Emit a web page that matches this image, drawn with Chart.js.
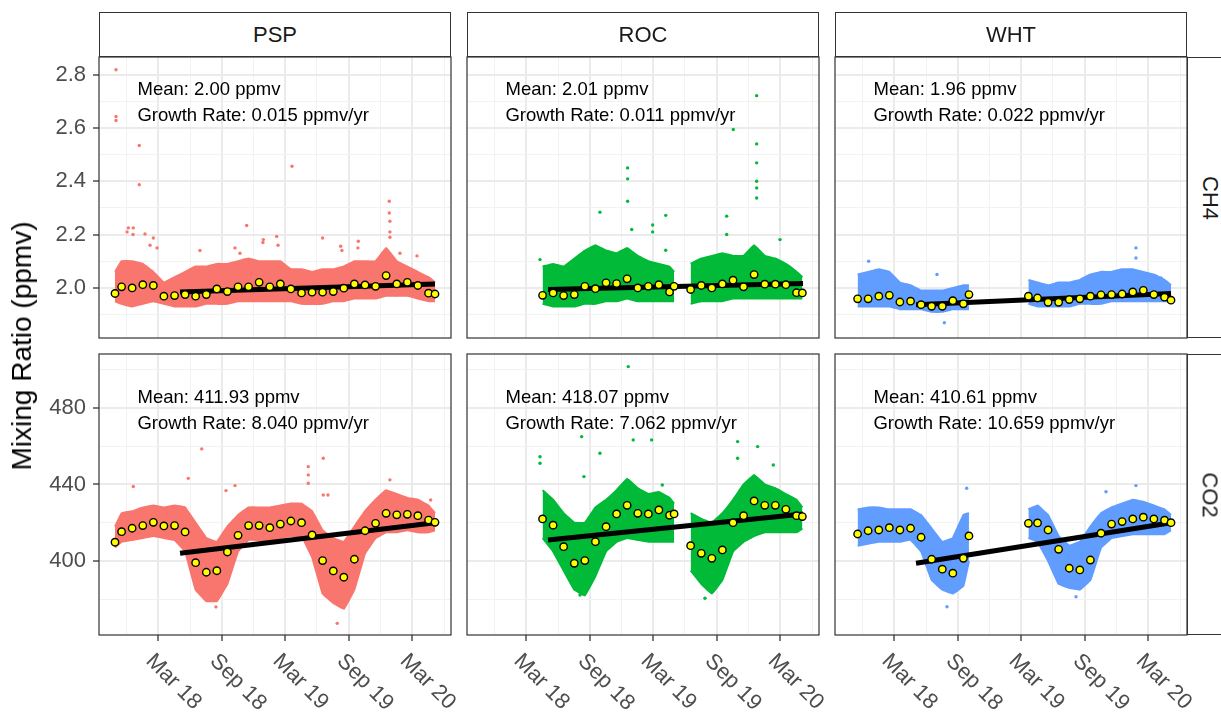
<!DOCTYPE html>
<html>
<head>
<meta charset="utf-8">
<script src="https://cdn.jsdelivr.net/npm/chart.js@4.4.1/dist/chart.umd.min.js"></script>
<style>
body { margin: 0; background: #fff; font-family: "Liberation Sans", Arial, sans-serif; }
#fig { position: relative; width: 1221px; height: 713px; overflow: hidden; background: #fff; }
#fig canvas { position: absolute; }
.strip { position: absolute; box-sizing: border-box; border: 1px solid #333; background: #fff;
         color: #1a1a1a; font-size: 22px; display: flex; align-items: center; justify-content: center; }
.strip span.rot { display: inline-block; transform: rotate(90deg); }
#ytitle { position: absolute; left: 22px; top: 346px; transform: translate(-50%, -50%) rotate(-90deg);
          white-space: nowrap; font-size: 28px; color: #000; }
</style>
</head>
<body>
<div id="fig"></div>
<script>
const sites = ['PSP', 'ROC', 'WHT'];
const gases = ['CH4', 'CO2'];
const siteColors = ['#F8766D', '#00BA38', '#619CFF'];

// x axis breaks
const xMajorDates = ['2018-03-01', '2018-09-01', '2019-03-01', '2019-09-01', '2020-03-01'];
const xMajorLabels = ['Mar 18', 'Sep 18', 'Mar 19', 'Sep 19', 'Mar 20'];
const xMinorDates = ['2017-12-01', '2018-06-01', '2018-12-01', '2019-06-01', '2019-12-01', '2020-06-01'];

// y axis breaks
const ch4Major = [2.0, 2.2, 2.4, 2.6, 2.8];
const ch4Minor = [1.9, 2.1, 2.3, 2.5, 2.7];
const co2Major = [400, 440, 480];
const co2Minor = [380, 420, 460, 500];

// monthly mean times (decimal year)
const pspTime = [2017.823, 2017.875, 2017.958, 2018.042, 2018.125, 2018.208, 2018.292, 2018.375, 2018.458, 2018.542, 2018.625, 2018.708,
  2018.792, 2018.875, 2018.958, 2019.042, 2019.125, 2019.208, 2019.292, 2019.375, 2019.458, 2019.542, 2019.625, 2019.708,
  2019.792, 2019.875, 2019.958, 2020.042, 2020.125, 2020.208, 2020.292, 2020.343];
const rocTime = [2018.292, 2018.375, 2018.458, 2018.542, 2018.625, 2018.708, 2018.792, 2018.875, 2018.958, 2019.042, 2019.125, 2019.208,
  2019.292, 2019.328, 2019.458, 2019.542, 2019.625, 2019.708, 2019.792, 2019.875, 2019.958, 2020.042, 2020.125, 2020.208,
  2020.292, 2020.338];
const whtTime = [2017.875, 2017.958, 2018.042, 2018.125, 2018.208, 2018.292, 2018.375, 2018.458, 2018.542, 2018.625, 2018.708, 2018.752,
  2019.220, 2019.292, 2019.375, 2019.458, 2019.542, 2019.625, 2019.708, 2019.792, 2019.875, 2019.958, 2020.042, 2020.125,
  2020.208, 2020.292, 2020.343];

// monthly means
const pspCh4Mean = [1.979, 2.004, 2.000, 2.012, 2.009, 1.969, 1.971, 1.975, 1.969, 1.975, 1.996, 1.986, 2.004, 2.004, 2.021, 2.004,
  2.015, 1.996, 1.981, 1.984, 1.984, 1.986, 1.999, 2.015, 2.011, 2.006, 2.046, 2.015, 2.021, 2.009, 1.980, 1.977];
const pspCo2Mean = [409.8, 415.3, 417.1, 418.5, 420.2, 418.3, 418.5, 415.2, 399.1, 394.1, 394.9, 404.7, 413.4, 418.5, 418.5, 417.4,
  419.3, 420.9, 420.0, 413.6, 400.2, 394.8, 391.5, 400.9, 415.8, 419.7, 424.9, 424.1, 424.4, 423.7, 421.4, 420.2];
const rocCh4Mean = [1.972, 1.981, 1.971, 1.975, 2.006, 1.997, 2.019, 2.016, 2.034, 2.000, 2.006, 2.012, 1.985, 2.006, 1.994, 2.009,
  2.000, 2.015, 2.029, 2.004, 2.050, 2.014, 2.014, 2.012, 1.982, 1.981];
const rocCo2Mean = [422.0, 418.7, 407.5, 398.8, 400.2, 410.1, 417.9, 424.6, 429.1, 424.9, 424.6, 426.7, 423.9, 424.6, 408.0, 404.0,
  401.4, 405.8, 420.0, 423.7, 431.4, 429.1, 429.1, 427.0, 423.7, 423.2];
const whtCh4Mean = [1.959, 1.959, 1.969, 1.972, 1.947, 1.950, 1.937, 1.931, 1.931, 1.952, 1.940, 1.975, 1.969, 1.962, 1.946, 1.946,
  1.956, 1.959, 1.969, 1.974, 1.975, 1.977, 1.985, 1.991, 1.975, 1.965, 1.954];
const whtCo2Mean = [414.1, 415.8, 416.2, 417.4, 416.2, 417.1, 412.4, 400.9, 395.7, 393.6, 401.4, 413.1, 419.7, 419.9, 416.2, 406.1,
  396.2, 395.3, 400.5, 414.5, 419.3, 420.6, 422.0, 422.9, 422.0, 421.3, 420.0];

// spread of the raw points in each month (low / high edge of the cloud)
const pspCh4Low = [1.95, 1.94, 1.93, 1.94, 1.95, 1.94, 1.93, 1.93, 1.93, 1.94, 1.94, 1.94, 1.95, 1.95, 1.95, 1.95,
  1.95, 1.95, 1.94, 1.94, 1.94, 1.95, 1.95, 1.96, 1.96, 1.96, 1.97, 1.97, 1.97, 1.96, 1.95, 1.95];
const pspCh4High = [2.06, 2.10, 2.10, 2.09, 2.06, 2.02, 2.04, 2.06, 2.08, 2.08, 2.09, 2.09, 2.10, 2.11, 2.10, 2.10,
  2.10, 2.07, 2.07, 2.06, 2.07, 2.07, 2.08, 2.10, 2.10, 2.10, 2.15, 2.10, 2.08, 2.06, 2.04, 2.02];
const pspCo2Low = [407, 410, 411, 412, 413, 412, 411, 405, 385, 379, 379, 388, 405, 411, 411, 411,
  412, 413, 413, 402, 383, 378, 375, 385, 404, 412, 415, 415, 416, 415, 415, 416];
const pspCo2High = [418, 425, 426, 428, 429, 428, 429, 428, 420, 412, 410, 418, 424, 428, 428, 428,
  429, 430, 430, 426, 416, 412, 410, 418, 426, 432, 437, 435, 433, 432, 429, 425];
const rocCh4Low = [1.94, 1.93, 1.93, 1.93, 1.94, 1.94, 1.95, 1.95, 1.96, 1.95, 1.95, 1.95, 1.95, 1.95, 1.94, 1.95,
  1.95, 1.95, 1.96, 1.96, 1.96, 1.96, 1.96, 1.96, 1.96, 1.96];
const rocCh4High = [2.08, 2.09, 2.08, 2.11, 2.14, 2.16, 2.14, 2.13, 2.15, 2.12, 2.10, 2.09, 2.08, 2.06, 2.09, 2.11,
  2.12, 2.13, 2.12, 2.12, 2.16, 2.12, 2.11, 2.09, 2.06, 2.04];
const rocCo2Low = [412, 405, 395, 385, 382, 392, 405, 410, 412, 411, 410, 410, 410, 410, 395, 388,
  383, 390, 405, 410, 413, 415, 415, 415, 415, 417];
const rocCo2High = [437, 432, 425, 420, 420, 428, 432, 437, 443, 438, 435, 436, 433, 430, 425, 422,
  420, 425, 432, 440, 445, 440, 438, 435, 432, 428];
const whtCh4Low = [1.93, 1.93, 1.93, 1.93, 1.92, 1.92, 1.92, 1.91, 1.91, 1.92, 1.92, 1.92, 1.94, 1.93, 1.93, 1.93,
  1.93, 1.94, 1.94, 1.94, 1.95, 1.95, 1.95, 1.95, 1.95, 1.95, 1.95];
const whtCh4High = [2.05, 2.06, 2.07, 2.06, 2.02, 2.01, 1.99, 1.99, 1.99, 2.00, 2.01, 2.01, 2.03, 2.02, 2.01, 2.02,
  2.02, 2.03, 2.05, 2.06, 2.06, 2.07, 2.07, 2.06, 2.05, 2.03, 2.01];
const whtCo2Low = [408, 409, 410, 410, 410, 411, 405, 390, 385, 383, 387, 400, 412, 410, 400, 388,
  386, 385, 390, 407, 412, 413, 414, 414, 414, 414, 416];
const whtCo2High = [427, 428, 428, 427, 427, 427, 424, 417, 410, 412, 424, 425, 427, 429, 424, 413,
  408, 410, 418, 425, 428, 430, 432, 431, 429, 427, 424];

// breaks in the records
const pspGap = null;
const rocGap = 2019.40;
const whtGap = 2018.98;

// isolated raw points outside the cloud [time, value]
const pspCh4Spikes = [[2017.831, 2.818], [2017.831, 2.643], [2017.831, 2.628], [2018.014, 2.534], [2018.014, 2.387],
  [2019.217, 2.456], [2018.059, 2.202], [2018.125, 2.187], [2018.860, 2.234], [2019.983, 2.325], [2019.983, 2.281],
  [2019.096, 2.193], [2019.458, 2.187], [2017.928, 2.225], [2017.967, 2.225], [2019.600, 2.156], [2019.739, 2.175],
  [2018.991, 2.181], [2017.918, 2.21], [2017.965, 2.20], [2018.099, 2.16], [2018.154, 2.15], [2018.492, 2.14],
  [2018.768, 2.15], [2018.807, 2.13], [2018.988, 2.17], [2019.107, 2.16], [2019.610, 2.14], [2019.736, 2.15],
  [2019.988, 2.25], [2019.988, 2.21], [2019.988, 2.19], [2020.067, 2.13], [2020.201, 2.12]];
const pspCo2Spikes = [[2018.506, 458.6], [2018.400, 443.2], [2019.345, 449.3], [2019.345, 445.0], [2019.345, 440.6],
  [2019.463, 453.7], [2018.697, 436.8], [2018.768, 439.4], [2017.967, 438.9], [2019.463, 434.5], [2019.500, 434.5],
  [2019.988, 442.4], [2020.309, 431.9], [2019.573, 367.4], [2018.618, 376.0]];
const rocCh4Spikes = [[2018.962, 2.450], [2018.962, 2.409], [2018.962, 2.325], [2018.744, 2.284], [2019.262, 2.272],
  [2019.159, 2.236], [2019.159, 2.210], [2019.978, 2.721], [2019.794, 2.594], [2019.978, 2.540], [2019.978, 2.469],
  [2019.978, 2.400], [2019.978, 2.375], [2019.978, 2.337], [2019.742, 2.269], [2019.742, 2.200], [2020.162, 2.181],
  [2018.272, 2.106], [2019.262, 2.141], [2018.994, 2.219]];
const rocCo2Spikes = [[2018.967, 501.6], [2018.600, 465.0], [2018.272, 454.5], [2018.272, 451.1], [2019.006, 463.3],
  [2019.151, 463.3], [2018.744, 456.3], [2019.828, 462.4], [2019.986, 459.8], [2019.828, 453.7], [2020.109, 450.2],
  [2018.618, 444.1], [2019.235, 439.7], [2018.587, 382.2], [2019.571, 380.5]];
const whtCh4Spikes = [[2017.962, 2.100], [2018.500, 2.050], [2018.558, 1.869], [2020.067, 2.150], [2020.067, 2.112],
  [2020.264, 2.037]];
const whtCo2Spikes = [[2018.734, 438.0], [2020.067, 439.4], [2019.831, 436.2], [2018.579, 376.1], [2019.595, 381.3]];

// linear trend end points
const trendTime = [2018.335, 2020.343];
const pspCh4Trend = [1.985, 2.015];
const pspCo2Trend = [404.0, 420.0];
const rocCh4Trend = [1.994, 2.016];
const rocCo2Trend = [411.0, 424.6];
const whtCh4Trend = [1.937, 1.979];
const whtCo2Trend = [398.8, 420.0];

// panel annotations
const meanText = {
  CH4: ['Mean: 2.00 ppmv', 'Mean: 2.01 ppmv', 'Mean: 1.96 ppmv'],
  CO2: ['Mean: 411.93 ppmv', 'Mean: 418.07 ppmv', 'Mean: 410.61 ppmv']
};
const growthText = {
  CH4: ['Growth Rate: 0.015 ppmv/yr', 'Growth Rate: 0.011 ppmv/yr', 'Growth Rate: 0.022 ppmv/yr'],
  CO2: ['Growth Rate: 8.040 ppmv/yr', 'Growth Rate: 7.062 ppmv/yr', 'Growth Rate: 10.659 ppmv/yr']
};
const textX = 2018.0;
const textY = { CH4: [2.725, 2.625], CO2: [482.5, 468.9] };

const xRange = [2017.697, 2020.469];
const yRange = { CH4: [1.812, 2.866], CO2: [361.3, 508.2] };

// lookup tables built from the arrays above
const siteTime = { PSP: pspTime, ROC: rocTime, WHT: whtTime };
const siteGap = { PSP: pspGap, ROC: rocGap, WHT: whtGap };
const means = { PSP: { CH4: pspCh4Mean, CO2: pspCo2Mean }, ROC: { CH4: rocCh4Mean, CO2: rocCo2Mean }, WHT: { CH4: whtCh4Mean, CO2: whtCo2Mean } };
const lows = { PSP: { CH4: pspCh4Low, CO2: pspCo2Low }, ROC: { CH4: rocCh4Low, CO2: rocCo2Low }, WHT: { CH4: whtCh4Low, CO2: whtCo2Low } };
const highs = { PSP: { CH4: pspCh4High, CO2: pspCo2High }, ROC: { CH4: rocCh4High, CO2: rocCo2High }, WHT: { CH4: whtCh4High, CO2: whtCo2High } };
const spikes = { PSP: { CH4: pspCh4Spikes, CO2: pspCo2Spikes }, ROC: { CH4: rocCh4Spikes, CO2: rocCo2Spikes }, WHT: { CH4: whtCh4Spikes, CO2: whtCo2Spikes } };
const trends = { PSP: { CH4: pspCh4Trend, CO2: pspCo2Trend }, ROC: { CH4: rocCh4Trend, CO2: rocCo2Trend }, WHT: { CH4: whtCh4Trend, CO2: whtCo2Trend } };

function decYear(s) {
  const [y, m, d] = s.split('-').map(Number);
  const start = Date.UTC(y, 0, 1);
  return y + (Date.UTC(y, m - 1, d) - start) / (Date.UTC(y + 1, 0, 1) - start);
}

const xMajor = xMajorDates.map(decYear);
const xMinor = xMinorDates.map(decYear);
const xTicks = xMajor.concat(xMinor).sort((a, b) => a - b);
const near = (list, v) => list.some(t => Math.abs(t - v) < 1e-6);

function withGap(times, vals, gap) {
  const pts = [];
  times.forEach((t, i) => {
    if (gap && i > 0 && times[i - 1] < gap && t > gap) pts.push({ x: gap, y: null });
    pts.push({ x: t, y: vals[i] });
  });
  return pts;
}

Chart.defaults.font.family = '"Liberation Sans", Arial, sans-serif';

const fig = document.getElementById('fig');
const colLeft = [99, 467, 835];
const rowTop = [57, 354];
const panelW = 352, panelH = 281;
const yAxisW = 99, xAxisH = 78;

gases.forEach((gas, r) => {
  sites.forEach((site, c) => {
    const padL = c === 0 ? 0 : 2;
    const padR = r === 1 ? 26 : 2;
    const padB = r === 1 ? 0 : 2;
    const left = colLeft[c] - (c === 0 ? yAxisW : 2);
    const top = rowTop[r] - 2;
    const w = (c === 0 ? yAxisW : 2) + panelW + padR;
    const h = 2 + panelH + (r === 1 ? xAxisH : 2);

    const canvas = document.createElement('canvas');
    canvas.width = w;
    canvas.height = h;
    canvas.style.left = left + 'px';
    canvas.style.top = top + 'px';
    canvas.style.width = w + 'px';
    canvas.style.height = h + 'px';
    fig.appendChild(canvas);

    const color = siteColors[c];
    const yMajor = gas === 'CH4' ? ch4Major : co2Major;
    const yMinor = gas === 'CH4' ? ch4Minor : co2Minor;
    const yTicks = yMajor.concat(yMinor).sort((a, b) => a - b);
    const times = siteTime[site];
    const gap = siteGap[site];

    const panelPlugin = {
      id: 'panel' + r + c,
      afterDatasetsDraw(chart) {
        const ctx = chart.ctx;
        const xs = chart.scales.x, ys = chart.scales.y;
        ctx.save();
        ctx.font = '18.5px "Liberation Sans"';
        ctx.fillStyle = '#000';
        ctx.textAlign = 'left';
        ctx.textBaseline = 'alphabetic';
        ctx.fillText(meanText[gas][c], xs.getPixelForValue(textX), ys.getPixelForValue(textY[gas][0]));
        ctx.fillText(growthText[gas][c], xs.getPixelForValue(textX), ys.getPixelForValue(textY[gas][1]));
        ctx.restore();
      },
      afterDraw(chart) {
        const ctx = chart.ctx;
        const a = chart.chartArea;
        ctx.save();
        ctx.strokeStyle = '#333333';
        ctx.lineWidth = 1.2;
        ctx.strokeRect(a.left, a.top, a.right - a.left, a.bottom - a.top);
        if (r === 1) {
          const xs = chart.scales.x;
          ctx.font = '22px "Liberation Sans"';
          ctx.fillStyle = '#4D4D4D';
          ctx.textAlign = 'left';
          ctx.textBaseline = 'alphabetic';
          xMajor.forEach((v, i) => {
            ctx.save();
            ctx.translate(xs.getPixelForValue(v) - 13, a.bottom + 27);
            ctx.rotate(Math.PI / 4);
            ctx.fillText(xMajorLabels[i], 0, 0);
            ctx.restore();
          });
        }
        ctx.restore();
      }
    };

    new Chart(canvas.getContext('2d'), {
      type: 'line',
      data: {
        datasets: [
          {
            label: 'monthly mean',
            data: times.map((t, i) => ({ x: t, y: means[site][gas][i] })),
            showLine: false,
            pointRadius: 3.7,
            pointBackgroundColor: '#FFFF00',
            pointBorderColor: '#000',
            pointBorderWidth: 1.4,
            order: 0,
            clip: 0
          },
          {
            label: 'trend',
            data: trendTime.map((t, i) => ({ x: t, y: trends[site][gas][i] })),
            borderColor: '#000',
            borderWidth: 5,
            pointRadius: 0,
            order: 1,
            clip: 0
          },
          {
            label: 'raw outliers',
            data: spikes[site][gas].map(p => ({ x: p[0], y: p[1] })),
            showLine: false,
            pointRadius: 1.7,
            pointBorderWidth: 0,
            pointBackgroundColor: color,
            order: 2,
            clip: 0
          },
          {
            label: 'raw high',
            data: withGap(times, highs[site][gas], gap),
            borderColor: color,
            backgroundColor: color,
            borderWidth: 2,
            pointRadius: 0,
            tension: 0.05,
            spanGaps: false,
            fill: '+1',
            order: 3,
            clip: 0
          },
          {
            label: 'raw low',
            data: withGap(times, lows[site][gas], gap),
            borderColor: color,
            borderWidth: 2,
            pointRadius: 0,
            tension: 0.05,
            spanGaps: false,
            fill: false,
            order: 4,
            clip: 0
          }
        ]
      },
      options: {
        responsive: false,
        animation: false,
        layout: { autoPadding: false, padding: { left: padL, right: padR, top: 2, bottom: padB } },
        plugins: { legend: { display: false }, tooltip: { enabled: false } },
        scales: {
          x: {
            type: 'linear',
            min: xRange[0],
            max: xRange[1],
            afterBuildTicks: s => { s.ticks = xTicks.map(v => ({ value: v })); },
            afterFit: s => { s.height = r === 1 ? xAxisH : 0; s.paddingLeft = 0; s.paddingRight = 0; },
            border: { display: false },
            grid: {
              color: ctx => near(xMajor, ctx.tick.value) ? '#EBEBEB' : '#F2F2F2',
              lineWidth: ctx => near(xMajor, ctx.tick.value) ? 2 : 1,
              drawTicks: r === 1,
              tickLength: 6,
              tickWidth: 1.3,
              tickColor: ctx => near(xMajor, ctx.tick.value) ? '#333333' : 'rgba(0,0,0,0)'
            },
            ticks: { display: false, autoSkip: false }
          },
          y: {
            type: 'linear',
            min: yRange[gas][0],
            max: yRange[gas][1],
            afterBuildTicks: s => { s.ticks = yTicks.map(v => ({ value: v })); },
            afterFit: s => { s.width = c === 0 ? yAxisW : 0; s.paddingTop = 0; s.paddingBottom = 0; },
            border: { display: false },
            grid: {
              color: ctx => near(yMajor, ctx.tick.value) ? '#EBEBEB' : '#F2F2F2',
              lineWidth: ctx => near(yMajor, ctx.tick.value) ? 2 : 1,
              drawTicks: c === 0,
              tickLength: 6,
              tickWidth: 1.3,
              tickColor: ctx => near(yMajor, ctx.tick.value) ? '#333333' : 'rgba(0,0,0,0)'
            },
            ticks: {
              display: c === 0,
              autoSkip: false,
              padding: 7,
              color: '#4D4D4D',
              font: { size: 22 },
              callback: v => near(yMajor, v) ? (gas === 'CH4' ? v.toFixed(1) : String(v)) : ''
            }
          }
        }
      },
      plugins: [panelPlugin]
    });
  });
});

// facet strips
sites.forEach((site, c) => {
  const d = document.createElement('div');
  d.className = 'strip';
  d.style.left = colLeft[c] + 'px';
  d.style.top = '12px';
  d.style.width = panelW + 'px';
  d.style.height = '45px';
  d.textContent = site;
  fig.appendChild(d);
});
gases.forEach((gas, r) => {
  const d = document.createElement('div');
  d.className = 'strip';
  d.style.left = (colLeft[2] + panelW) + 'px';
  d.style.top = rowTop[r] + 'px';
  d.style.width = '45px';
  d.style.height = panelH + 'px';
  const s = document.createElement('span');
  s.className = 'rot';
  s.textContent = gas;
  d.appendChild(s);
  fig.appendChild(d);
});

const title = document.createElement('div');
title.id = 'ytitle';
title.textContent = 'Mixing Ratio (ppmv)';
fig.appendChild(title);
</script>
</body>
</html>
